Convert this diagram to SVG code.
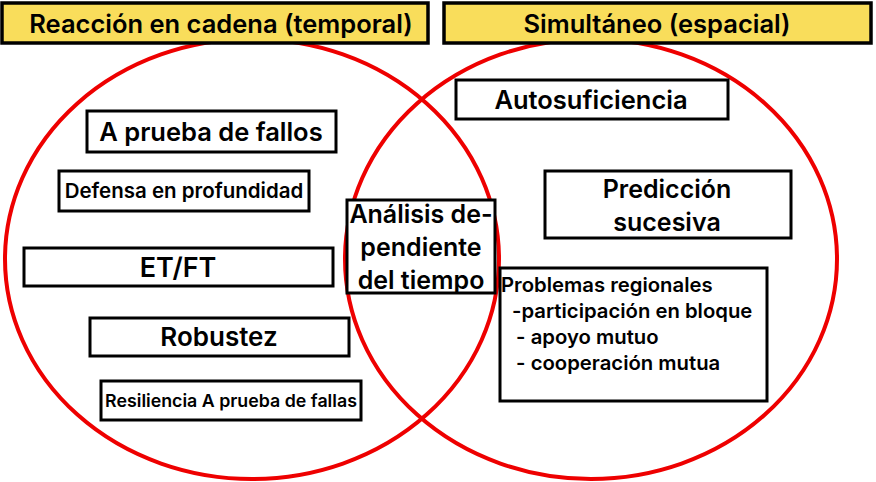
<svg xmlns="http://www.w3.org/2000/svg" width="876" height="482" viewBox="0 0 876 482">
<style>
text{font-family:Inter,"Noto Sans","Liberation Sans",sans-serif;font-weight:600;fill:#000}
.b{fill:#fff;stroke:#000;stroke-width:3}
.t{fill:#f9dd5b;stroke:#000;stroke-width:3.5}
.c{fill:none;stroke:#ee0000;stroke-width:4}
</style>
<rect width="876" height="482" fill="#fff"/>
<g id="circles">
<ellipse class="c" cx="252" cy="259" rx="247" ry="220"/>
<ellipse class="c" cx="591" cy="259" rx="246" ry="220"/>
</g>
<g id="title-left"><rect class="t" x="2" y="3" width="426" height="40"/><text x="221" y="33" font-size="25.5" text-anchor="middle">Reacción en cadena (temporal)</text></g>
<g id="title-right"><rect class="t" x="444" y="3" width="427" height="40"/><text x="657" y="33" font-size="25.5" text-anchor="middle">Simultáneo (espacial)</text></g>
<g id="n1"><rect class="b" x="87" y="111" width="249" height="41"/><text x="211" y="141" font-size="25.5" text-anchor="middle">A prueba de fallos</text></g>
<g id="n2"><rect class="b" x="59" y="171" width="250" height="40"/><text x="184" y="198" font-size="20.5" text-anchor="middle">Defensa en profundidad</text></g>
<g id="n3"><rect class="b" x="24" y="248" width="309" height="38"/><text x="178" y="277" font-size="27" text-anchor="middle">ET/FT</text></g>
<g id="n4"><rect class="b" x="90" y="318" width="259" height="38"/><text x="219" y="346" font-size="26" text-anchor="middle">Robustez</text></g>
<g id="n5"><rect class="b" x="101" y="381" width="260" height="39"/><text x="231" y="407" font-size="17.8" text-anchor="middle">Resiliencia A prueba de fallas</text></g>
<g id="n6"><rect class="b" x="347" y="200" width="148" height="93"/><text font-size="25" text-anchor="middle"><tspan x="421" y="223">Análisis de-</tspan><tspan x="421" y="256">pendiente</tspan><tspan x="421" y="289">del tiempo</tspan></text></g>
<g id="n7"><rect class="b" x="456" y="80" width="272" height="39"/><text x="591" y="109" font-size="25.5" text-anchor="middle">Autosuficiencia</text></g>
<g id="n8"><rect class="b" x="545" y="171" width="246" height="67"/><text font-size="25" text-anchor="middle"><tspan x="667" y="198">Predicción</tspan><tspan x="667" y="231">sucesiva</tspan></text></g>
<g id="n9"><rect class="b" x="500" y="268" width="267" height="133"/><text font-size="20.3"><tspan x="501" y="292">Problemas regionales</tspan><tspan x="512" y="318">-participación en bloque</tspan><tspan x="511" y="344"> - apoyo mutuo</tspan><tspan x="511" y="370"> - cooperación mutua</tspan></text></g>
<g id="connectors"/>
</svg>
